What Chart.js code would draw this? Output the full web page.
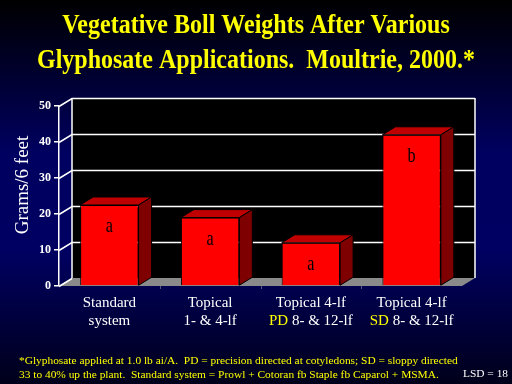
<!DOCTYPE html>
<html lang="en">
<head>
    <meta charset="UTF-8">
    <title>Vegetative Boll Weights</title>
    <script src="https://cdn.jsdelivr.net/npm/chart.js"></script>
    <style>
        body { margin: 0; background: #000; }
    </style>
</head>
<body>
    <canvas id="myChart" width="512" height="384"></canvas>

    <script>
        // data
        var lineOne = ['Standard', 'Topical', 'Topical 4-lf', 'Topical 4-lf'];
        var lineTwoPrefix = ['', '', 'PD', 'SD'];
        var lineTwoRest = ['system', '1- & 4-lf', '8- & 12-lf', '8- & 12-lf'];
        var bollWeights = [22.5, 19, 12, 42];
        var sigLetters = ['a', 'a', 'a', 'b'];
        var yTicks = [0, 10, 20, 30, 40, 50];

        var titleLines = ['Vegetative Boll Weights After Various', 'Glyphosate Applications.  Moultrie, 2000.*'];
        var footLines = ['*Glyphosate applied at 1.0 lb ai/A.  PD = precision directed at cotyledons; SD = sloppy directed',
                         '33 to 40% up the plant.  Standard system = Prowl + Cotoran fb Staple fb Caparol + MSMA.'];

        var DX = 13, DY = 8;   // depth of the 3d look
        var serif = '"Liberation Serif", "Times New Roman", serif';

        var slide = {
            id: 'slide',
            beforeDraw: function(chart) {
                var c = chart.ctx;
                var g = c.createLinearGradient(0, 0, 0, 384);
                g.addColorStop(0, '#000000');
                g.addColorStop(0.4, '#000060');
                g.addColorStop(0.65, '#000062');
                g.addColorStop(1, '#00001a');
                c.fillStyle = g;
                c.fillRect(0, 0, 512, 384);
            },
            beforeDatasetsDraw: function(chart) {
                var c = chart.ctx, a = chart.chartArea, y = chart.scales.y, x = chart.scales.x;
                var L = a.left, R = a.right, B = y.getPixelForValue(0), T = y.getPixelForValue(50);
                c.save();
                // back wall
                c.fillStyle = '#000000';
                c.fillRect(L + DX, T - DY, R - L, B - T);
                // floor
                c.fillStyle = '#8a8a8a';
                c.beginPath();
                c.moveTo(L, B); c.lineTo(L + DX, B - DY); c.lineTo(R + DX, B - DY); c.lineTo(R, B);
                c.closePath(); c.fill();
                // grid on wall
                c.strokeStyle = '#ffffff';
                c.lineWidth = 1.5;
                yTicks.forEach(function(v) {
                    var py = Math.round(y.getPixelForValue(v)) + 0.5;
                    c.beginPath();
                    c.moveTo(L, py); c.lineTo(L + DX, py - DY);
                    if (v > 0) c.lineTo(R + DX, py - DY);
                    c.stroke();
                });
                c.beginPath();
                c.moveTo(L + DX, B - DY); c.lineTo(L + DX, T - DY);
                c.moveTo(R + DX, T - DY); c.lineTo(R + DX, B - DY);
                c.stroke();
                // small ticks under the floor
                c.strokeStyle = '#555577';
                c.lineWidth = 1;
                for (var i = 1; i < lineOne.length; i++) {
                    var bx = Math.round((x.getPixelForValue(i - 1) + x.getPixelForValue(i)) / 2) + 0.5;
                    c.beginPath(); c.moveTo(bx, B); c.lineTo(bx, B + 3); c.stroke();
                }
                c.restore();
            },
            afterDatasetsDraw: function(chart) {
                var c = chart.ctx, meta = chart.getDatasetMeta(0);
                c.save();
                c.lineWidth = 1;
                c.strokeStyle = '#000000';
                meta.data.forEach(function(bar, i) {
                    var l = bar.x - bar.width / 2, r = bar.x + bar.width / 2, t = bar.y, b = bar.base;
                    // top
                    c.fillStyle = '#c00000';
                    c.beginPath();
                    c.moveTo(l, t); c.lineTo(l + DX, t - DY); c.lineTo(r + DX, t - DY); c.lineTo(r, t);
                    c.closePath(); c.fill(); c.stroke();
                    // side
                    c.fillStyle = '#7e0000';
                    c.beginPath();
                    c.moveTo(r, t); c.lineTo(r + DX, t - DY); c.lineTo(r + DX, b - DY); c.lineTo(r, b);
                    c.closePath(); c.fill(); c.stroke();
                    // letter, a bit narrow like the slide font
                    c.save();
                    c.translate(bar.x, t + 22);
                    c.scale(0.85, 1.1);
                    c.fillStyle = '#000000';
                    c.font = '19px ' + serif;
                    c.textAlign = 'center';
                    c.textBaseline = 'middle';
                    c.fillText(sigLetters[i], 0, 0);
                    c.restore();
                });
                c.restore();
            },
            afterDraw: function(chart) {
                var c = chart.ctx, x = chart.scales.x;
                c.save();
                // title, slightly stretched up
                c.fillStyle = '#ffff00';
                c.font = 'bold 24px ' + serif;
                c.textAlign = 'center';
                c.textBaseline = 'middle';
                [26, 61].forEach(function(ty, k) {
                    c.save();
                    c.translate(256, ty);
                    c.scale(1, 1.12);
                    c.fillText(titleLines[k], 0, 0);
                    c.restore();
                });

                // category labels
                c.font = '15px ' + serif;
                lineOne.forEach(function(txt, i) {
                    var cx = x.getPixelForValue(i);
                    c.textAlign = 'center';
                    c.fillStyle = '#ffffff';
                    c.fillText(txt, cx, 303);
                    var pre = lineTwoPrefix[i] ? lineTwoPrefix[i] + ' ' : '';
                    var w1 = c.measureText(pre).width, w2 = c.measureText(lineTwoRest[i]).width;
                    var sx = cx - (w1 + w2) / 2;
                    c.textAlign = 'left';
                    c.fillStyle = '#ffff00';
                    c.fillText(pre, sx, 321);
                    c.fillStyle = '#ffffff';
                    c.fillText(lineTwoRest[i], sx + w1, 321);
                });

                // y title
                c.save();
                c.translate(23, 185);
                c.rotate(-Math.PI / 2);
                c.textAlign = 'center';
                c.fillStyle = '#ffffff';
                c.font = '19px ' + serif;
                c.fillText('Grams/6 feet', 0, 0);
                c.restore();

                // footnote
                c.font = '11.4px ' + serif;
                c.textAlign = 'left';
                c.fillStyle = '#ffff00';
                c.fillText(footLines[0], 19, 361, 440);
                c.fillText(footLines[1], 19, 375, 420);
                c.fillStyle = '#ffffff';
                c.fillText('LSD = 18', 463, 374);
                c.restore();
            }
        };

        var ctx = document.getElementById('myChart');
        var myChart = new Chart(ctx, {
            type: 'bar',
            data: {
                labels: lineOne,
                datasets: [{
                    data: bollWeights,
                    backgroundColor: '#ff0000',
                    borderColor: '#000000',
                    borderWidth: 1,
                    categoryPercentage: 1,
                    barPercentage: 0.58
                }]
            },
            options: {
                responsive: false,
                animation: false,
                layout: { padding: { top: 106, bottom: 98, left: 0, right: 50 } },
                plugins: {
                    legend: { display: false },
                    tooltip: { enabled: false }
                },
                scales: {
                    x: { display: false },
                    y: {
                        min: 0,
                        max: 50,
                        afterFit: function(s) { s.width = 59; },
                        ticks: {
                            stepSize: 10,
                            color: '#ffffff',
                            padding: 3,
                            font: { family: serif, size: 12, weight: 'bold' }
                        },
                        grid: { drawOnChartArea: false, color: '#ffffff', tickLength: 5, lineWidth: 1.5 },
                        border: { color: '#ffffff', width: 1.5 }
                    }
                }
            },
            plugins: [slide]
        });
    </script>
</body>
</html>
